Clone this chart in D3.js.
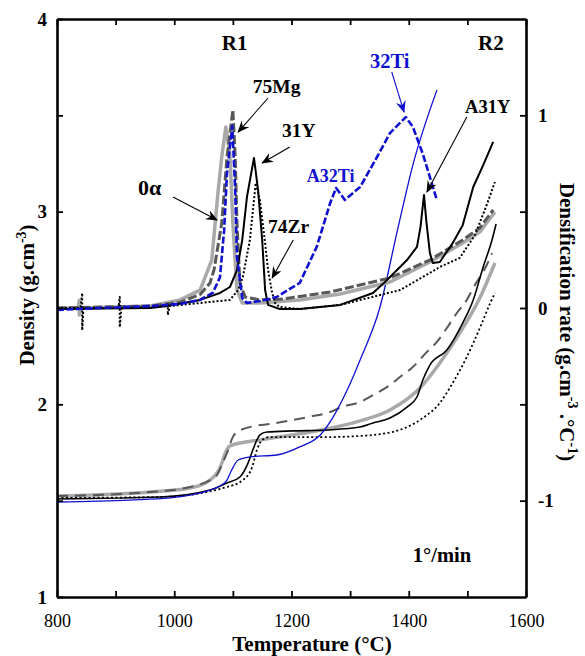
<!DOCTYPE html>
<html>
<head>
<meta charset="utf-8">
<script src="https://d3js.org/d3.v7.min.js"></script>
<style>
body { margin: 0; background: #fff; }
svg text { font-family: "Liberation Serif", "Times New Roman", serif; }
</style>
</head>
<body>
<div id="chart"></div>
<script>
// values, T in °C

// densification rate (right axis)
const rate0a = [[800,0.0],[836,0.0],[838,0.04],[838,-0.036],[840,0.0],[959,0.01],[1010,0.042],[1044,0.093],[1064,0.249],[1075,0.612],[1081,0.784],[1088,0.939],[1095,0.794],[1100,0.441],[1107,0.093],[1116,0.026],[1146,0.026],[1214,0.042],[1283,0.073],[1368,0.135],[1436,0.239],[1492,0.337],[1521,0.394],[1547,0.498]]
const rate75Mg = [[800,0.0],[959,0.01],[1010,0.03],[1044,0.07],[1061,0.13],[1068,0.2],[1081,0.441],[1090,0.784],[1100,1.028],[1104,0.784],[1107,0.441],[1112,0.13],[1121,0.057],[1146,0.042],[1180,0.045],[1266,0.083],[1368,0.156],[1436,0.249],[1492,0.353],[1521,0.415],[1544,0.509]]
const rate31Y = [[800,-0.005],[959,0.0],[988,0.01],[1044,0.042],[1078,0.078],[1095,0.109],[1107,0.197],[1116,0.353],[1124,0.576],[1136,0.779],[1143,0.612],[1150,0.353],[1155,0.093],[1160,0.016],[1180,-0.005],[1214,-0.005],[1283,0.016],[1339,0.078],[1363,0.145],[1397,0.249],[1414,0.317],[1420,0.42],[1426,0.587],[1430,0.45],[1436,0.286],[1441,0.234],[1453,0.239],[1475,0.337],[1492,0.43],[1510,0.628],[1527,0.742],[1544,0.862]]
const rate74Zr = [[800,0.0],[840,0.0],[843,0.078],[843,-0.115],[845,0.0],[905,0.0],[907,0.057],[907,-0.1],[910,0.0],[986,0.01],[989,0.02],[989,-0.036],[992,0.01],[1044,0.026],[1095,0.042],[1109,0.093],[1117,0.161],[1129,0.353],[1139,0.649],[1146,0.561],[1155,0.337],[1160,0.197],[1167,0.078],[1172,0.026],[1180,0.005],[1214,-0.005],[1283,0.016],[1385,0.093],[1424,0.161],[1453,0.213],[1487,0.26],[1513,0.379],[1533,0.535],[1547,0.654]]
const rate32Ti = [[800,-0.01],[873,0.0],[959,0.01],[1010,0.021],[1044,0.042],[1066,0.08],[1078,0.16],[1085,0.4],[1090,0.7],[1099,0.944],[1104,0.612],[1107,0.265],[1116,0.052],[1124,0.026],[1146,0.036],[1175,0.057],[1197,0.099],[1214,0.13],[1243,0.317],[1266,0.545],[1276,0.623],[1291,0.561],[1317,0.628],[1346,0.784],[1368,0.908],[1395,0.991],[1407,0.94],[1424,0.8],[1448,0.56]]

// density (left axis)
const dens0a = [[800,1.524],[959,1.545],[1027,1.566],[1061,1.607],[1078,1.67],[1088,1.753],[1095,1.784],[1146,1.815],[1232,1.856],[1317,1.914],[1368,1.971],[1419,2.085],[1453,2.215],[1487,2.37],[1522,2.557],[1547,2.734]]
const dens75Mg = [[800,1.524],[959,1.545],[1027,1.571],[1061,1.607],[1073,1.633],[1081,1.685],[1092,1.763],[1099,1.825],[1107,1.856],[1138,1.888],[1163,1.898],[1203,1.919],[1228,1.934],[1266,1.96],[1286,1.986],[1317,2.012],[1339,2.048],[1368,2.1],[1385,2.142],[1407,2.194],[1431,2.272],[1448,2.324],[1465,2.396],[1482,2.474],[1499,2.542],[1510,2.604],[1533,2.723],[1542,2.785]]
const dens31Y = [[800,1.509],[976,1.519],[1061,1.555],[1090,1.592],[1112,1.623],[1126,1.696],[1134,1.763],[1141,1.815],[1146,1.841],[1158,1.856],[1203,1.862],[1261,1.867],[1317,1.882],[1339,1.903],[1368,1.929],[1397,1.986],[1414,2.038],[1424,2.126],[1436,2.204],[1465,2.282],[1492,2.422],[1510,2.542],[1527,2.713],[1542,2.853],[1549,2.936]]
const dens74Zr = [[800,1.514],[976,1.519],[1090,1.571],[1117,1.607],[1133,1.675],[1141,1.763],[1150,1.815],[1163,1.83],[1203,1.83],[1261,1.83],[1317,1.836],[1339,1.841],[1397,1.882],[1424,1.929],[1453,2.007],[1475,2.111],[1499,2.246],[1522,2.401],[1539,2.526],[1547,2.578]]
const dens32Ti = [[800,1.493],[924,1.503],[993,1.514],[1027,1.529],[1061,1.555],[1078,1.576],[1090,1.607],[1098,1.659],[1109,1.711],[1129,1.727],[1175,1.737],[1214,1.779],[1249,1.841],[1271,1.934],[1295,2.074],[1317,2.23],[1351,2.505],[1380,2.894],[1407,3.242],[1448,3.631]]

// axes ticks
const xTicks = [800, 900, 1000, 1100, 1200, 1300, 1400, 1500, 1600]
const densTicks = [1, 1.5, 2, 2.5, 3, 3.5, 4]
const rateTicks = [-1, -0.5, 0, 0.5, 1]

const svgWidth = 585
const svgHeight = 656
const margin = { top: 19, right: 59, bottom: 59, left: 57 }
const width = svgWidth - margin.left - margin.right
const height = svgHeight - margin.top - margin.bottom

const svg = d3.select('#chart').append('svg')
    .attr('width', svgWidth)
    .attr('height', svgHeight)

const defs = svg.append('defs')
function addMarker(id, color) {
    defs.append('marker')
        .attr('id', id)
        .attr('viewBox', '0 0 12 10')
        .attr('refX', 11).attr('refY', 5)
        .attr('markerWidth', 12).attr('markerHeight', 10)
        .attr('markerUnits', 'userSpaceOnUse')
        .attr('orient', 'auto')
        .append('path')
        .attr('d', 'M0,0 L12,5 L0,10 L4,5 z')
        .attr('fill', color)
}
addMarker('arrBlack', '#000')
addMarker('arrBlue', '#1010d0')

const chartGroup = svg.append('g')
    .attr('transform', `translate(${margin.left}, ${margin.top})`)

const x = d3.scaleLinear().domain([800, 1600]).range([0, width])
const yD = d3.scaleLinear().domain([1, 4]).range([height, 0])
const yR = d3.scaleLinear().domain([-1.5, 1.5]).range([height, 0])

const lineD = d3.line().x(d => x(d[0])).y(d => yD(d[1])).curve(d3.curveMonotoneX)
const lineR = d3.line().x(d => x(d[0])).y(d => yR(d[1]))

// density curves
const densSeries = [
    { data: dens0a, color: '#a9a9a9', w: 3.5, dash: null },
    { data: dens75Mg, color: '#585858', w: 2, dash: '11,7' },
    { data: dens74Zr, color: '#000', w: 1.8, dash: '2,2.5' },
    { data: dens31Y, color: '#000', w: 1.6, dash: null },
    { data: dens32Ti, color: '#1010d0', w: 1.3, dash: null }
]
densSeries.forEach(s => {
    chartGroup.append('path')
        .datum(s.data)
        .attr('d', lineD)
        .attr('fill', 'none')
        .attr('stroke', s.color)
        .attr('stroke-width', s.w)
        .attr('stroke-dasharray', s.dash)
})

// densification rate curves
const rateSeries = [
    { data: rate0a, color: '#a9a9a9', w: 3.5, dash: null },
    { data: rate75Mg, color: '#585858', w: 3, dash: '9,3' },
    { data: rate74Zr, color: '#000', w: 2, dash: '2,2' },
    { data: rate31Y, color: '#000', w: 2, dash: null },
    { data: rate32Ti, color: '#1010d0', w: 2.6, dash: '7,2.5' }
]
rateSeries.forEach(s => {
    chartGroup.append('path')
        .datum(s.data)
        .attr('d', lineR)
        .attr('fill', 'none')
        .attr('stroke', s.color)
        .attr('stroke-width', s.w)
        .attr('stroke-linejoin', 'round')
        .attr('stroke-dasharray', s.dash)
})

// axes
const xAxisBottom = d3.axisBottom(x).tickValues(xTicks)
    .tickSizeInner(-6).tickSizeOuter(0).tickPadding(17)
    .tickFormat(d => d % 200 === 0 ? d : '')
const xAxisTop = d3.axisTop(x).tickValues(xTicks)
    .tickSizeInner(-6).tickSizeOuter(0).tickFormat('')
const yAxisLeft = d3.axisLeft(yD).tickValues(densTicks)
    .tickSizeInner(-6).tickSizeOuter(0).tickPadding(10)
    .tickFormat(d => Number.isInteger(d) ? d : '')
const yAxisRight = d3.axisRight(yR).tickValues(rateTicks)
    .tickSizeInner(-6).tickSizeOuter(0).tickPadding(12)
    .tickFormat(d => Number.isInteger(d) ? d : '')

const gB = chartGroup.append('g').attr('transform', `translate(0, ${height})`).call(xAxisBottom)
const gT = chartGroup.append('g').call(xAxisTop)
const gL = chartGroup.append('g').call(yAxisLeft)
const gR = chartGroup.append('g').attr('transform', `translate(${width}, 0)`).call(yAxisRight)

;[gB, gT, gL, gR].forEach(g => {
    g.select('.domain').attr('stroke-width', 2.6).attr('stroke', '#000')
    g.selectAll('.tick line').attr('stroke-width', 1.8).attr('stroke', '#000')
    g.selectAll('text').attr('fill', '#000').style('font-size', '18px')
        .style('font-family', '"Liberation Serif", serif')
})
gL.selectAll('text').style('font-weight', 'bold').style('font-size', '19px')
gR.selectAll('text').style('font-weight', 'bold').style('font-size', '19px')

// axis titles
svg.append('text')
    .attr('x', 312).attr('y', 651)
    .attr('text-anchor', 'middle')
    .style('font-size', '21px').style('font-weight', 'bold')
    .text('Temperature (°C)')

const leftTitle = svg.append('text')
    .attr('transform', 'translate(34, 295) rotate(-90)')
    .attr('text-anchor', 'middle')
    .style('font-size', '21px').style('font-weight', 'bold')
leftTitle.append('tspan').text('Density (g.cm')
leftTitle.append('tspan').attr('dy', -8).style('font-size', '14px').text('-3')
leftTitle.append('tspan').attr('dy', 8).text(')')

const rightTitle = svg.append('text')
    .attr('transform', 'translate(560, 322) rotate(90)')
    .attr('text-anchor', 'middle')
    .style('font-size', '21px').style('font-weight', 'bold')
rightTitle.append('tspan').text('Densification rate (g.cm')
rightTitle.append('tspan').attr('dy', -8).style('font-size', '14px').text('-3')
rightTitle.append('tspan').attr('dy', 8).text(' .°C')
rightTitle.append('tspan').attr('dy', -8).style('font-size', '14px').text('-1')
rightTitle.append('tspan').attr('dy', 8).text(')')

// annotations, positioned in data units (T, density)
const labels = [
    { t: 1103, d: 3.84, text: 'R1', anchor: 'middle', color: '#000', size: 21 },
    { t: 1540, d: 3.84, text: 'R2', anchor: 'middle', color: '#000', size: 21 },
    { t: 1134, d: 3.616, text: '75Mg', anchor: 'start', color: '#000', size: 19.5 },
    { t: 1184, d: 3.388, text: '31Y', anchor: 'start', color: '#000', size: 19.5 },
    { t: 938, d: 3.087, text: '0α', anchor: 'start', color: '#000', size: 22 },
    { t: 1160, d: 2.889, text: '74Zr', anchor: 'start', color: '#000', size: 19.5 },
    { t: 1334, d: 3.746, text: '32Ti', anchor: 'start', color: '#1010d0', size: 20.5 },
    { t: 1226, d: 3.154, text: 'A32Ti', anchor: 'start', color: '#1010d0', size: 18 },
    { t: 1496, d: 3.512, text: 'A31Y', anchor: 'start', color: '#000', size: 18.5 },
    { t: 1407, d: 1.182, text: '1°/min', anchor: 'start', color: '#000', size: 20.5 }
]
chartGroup.selectAll('.note')
    .data(labels)
    .enter()
    .append('text')
    .attr('class', 'note')
    .attr('x', d => x(d.t))
    .attr('y', d => yD(d.d))
    .attr('text-anchor', d => d.anchor)
    .attr('fill', d => d.color)
    .style('font-size', d => d.size + 'px')
    .style('font-weight', 'bold')
    .text(d => d.text)

const arrows = [
    { t1: 1160, d1: 3.59, t2: 1109, d2: 3.413, blue: false },
    { t1: 1197, d1: 3.336, t2: 1150, d2: 3.253, blue: false },
    { t1: 998, d1: 3.076, t2: 1073, d2: 2.957, blue: false },
    { t1: 1203, d1: 2.853, t2: 1167, d2: 2.656, blue: false },
    { t1: 1371, d1: 3.725, t2: 1392, d2: 3.517, blue: true },
    { t1: 1499, d1: 3.491, t2: 1431, d2: 3.102, blue: false }
]
chartGroup.selectAll('.arrow')
    .data(arrows)
    .enter()
    .append('line')
    .attr('class', 'arrow')
    .attr('x1', d => x(d.t1)).attr('y1', d => yD(d.d1))
    .attr('x2', d => x(d.t2)).attr('y2', d => yD(d.d2))
    .attr('stroke', d => d.blue ? '#1010d0' : '#000')
    .attr('stroke-width', 1.1)
    .attr('marker-end', d => d.blue ? 'url(#arrBlue)' : 'url(#arrBlack)')
</script>
</body>
</html>
